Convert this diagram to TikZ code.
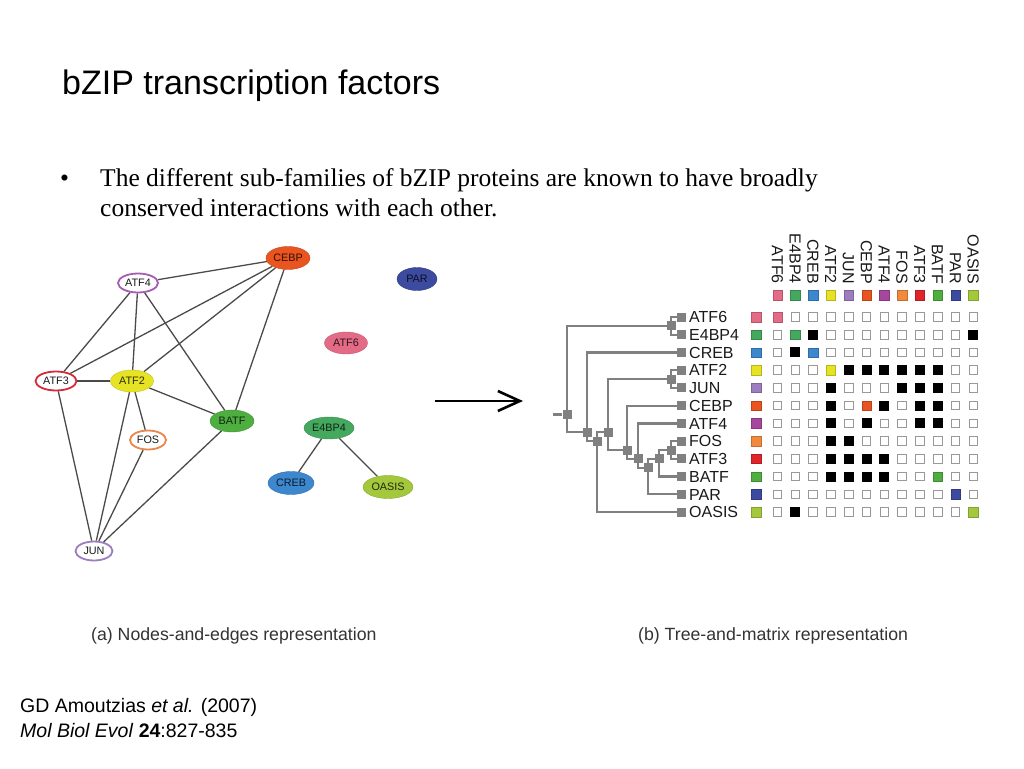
\documentclass[tikz,border=0pt]{standalone}
\usepackage{fontspec}
\setmainfont{Liberation Serif}
\newfontfamily\arial{Liberation Sans}
\usetikzlibrary{shapes.geometric,arrows.meta}
\pgfdeclarelayer{bg}
\pgfsetlayers{bg,main}
\definecolor{col0}{HTML}{E36B86}
\definecolor{col1}{HTML}{45A85F}
\definecolor{col2}{HTML}{3D87CF}
\definecolor{col3}{HTML}{E6E324}
\definecolor{col4}{HTML}{9C7DC0}
\definecolor{col5}{HTML}{E9541F}
\definecolor{col6}{HTML}{A6479E}
\definecolor{col7}{HTML}{F28A3D}
\definecolor{col8}{HTML}{E1232A}
\definecolor{col9}{HTML}{4EAE40}
\definecolor{col10}{HTML}{3C4A9F}
\definecolor{col11}{HTML}{A4C83C}
\definecolor{ringfour}{HTML}{A65BB5}
\definecolor{ringjun}{HTML}{9C7DC0}
\definecolor{ringthree}{HTML}{D42A3A}
\definecolor{ringfos}{HTML}{E8874A}
\definecolor{treegray}{HTML}{808080}
\definecolor{netedge}{HTML}{4A4A4A}
\begin{document}
\begin{tikzpicture}[x=1pt,y=-1pt,
  net/.style={ellipse, inner sep=0pt, font=\arial\fontsize{10.8}{12}\selectfont},
  netfill/.style={net, fill=#1, draw=#1!85!black, line width=0.4pt, text=#1!20!black},
  netring/.style={net, fill=white, draw=#1, line width=1.8pt, text=black!90},
  netedgestyle/.style={draw=netedge, line width=1.3pt},
  tsq/.style={rectangle, fill=treegray, inner sep=0pt, minimum size=9pt},
  tline/.style={draw=treegray, line width=2.3pt},
  emp/.style={rectangle, draw=black!40, fill=white, line width=0.9pt, inner sep=0pt, minimum size=8.5pt},
  blk/.style={rectangle, fill=black, inner sep=0pt, minimum size=10pt},
  dia/.style={rectangle, fill=#1, draw=#1!80!black, line width=0.4pt, inner sep=0pt, minimum size=9.5pt},
  rowlab/.style={anchor=base west, inner sep=0pt, text=black!90, font=\arial\fontsize{16}{18}\selectfont},
  collab/.style={anchor=base east, rotate=-90, inner sep=0pt, text=black!90, font=\arial\fontsize{16}{18}\selectfont},
  caption/.style={anchor=base west, inner sep=0pt, text=black!80, font=\arial\fontsize{17.7}{20}\selectfont}
]
\useasboundingbox (0,0) rectangle (1024,768);

% title and bullet
\node[anchor=base west, inner sep=0pt, font=\arial\fontsize{34}{40}\selectfont] (title) at (62,94) {bZIP transcription factors};
\node[anchor=base west, inner sep=0pt, font=\fontsize{25.5}{30}\selectfont] (bullet) at (60,186) {•};
\node[anchor=base west, inner sep=0pt, font=\fontsize{25.5}{30}\selectfont] (lineone) at (100,186) {The different sub-families of bZIP proteins are known to have broadly};
\node[anchor=base west, inner sep=0pt, font=\fontsize{25.5}{30}\selectfont] (linetwo) at (100,216) {conserved interactions with each other.};

% network
\node[netfill=col5, minimum width=44pt, minimum height=23pt] (CEBP) at (288,258) {CEBP};
\node[netring=ringfour, minimum width=40pt, minimum height=19pt] (ATFfour) at (138,283) {ATF4};
\node[netfill=col10, minimum width=40pt, minimum height=23pt] (PAR) at (417,279) {PAR};
\node[netfill=col0, minimum width=43pt, minimum height=22pt] (ATFsix) at (346,343) {ATF6};
\node[netring=ringthree, minimum width=41pt, minimum height=19pt] (ATFthree) at (56,381) {ATF3};
\node[netfill=col3, minimum width=43pt, minimum height=22pt] (ATFtwo) at (132,381) {ATF2};
\node[netfill=col9, minimum width=44pt, minimum height=22pt] (BATF) at (232,421) {BATF};
\node[netring=ringfos, minimum width=36pt, minimum height=19pt] (FOS) at (148,440) {FOS};
\node[netfill=col1, minimum width=50pt, minimum height=22pt] (EfourBPfour) at (329,428) {E4BP4};
\node[netfill=col2, minimum width=46pt, minimum height=23pt] (CREB) at (291,483) {CREB};
\node[netfill=col11, minimum width=50pt, minimum height=23pt] (OASIS) at (388,487) {OASIS};
\node[netring=ringjun, minimum width=37pt, minimum height=19pt] (JUN) at (94,551) {JUN};

\begin{pgfonlayer}{bg}
\foreach \a/\b in {CEBP/ATFfour, CEBP/ATFthree, CEBP/ATFtwo, CEBP/BATF,
  ATFfour/ATFthree, ATFfour/ATFtwo, ATFfour/BATF, ATFthree/ATFtwo, ATFthree/JUN,
  ATFtwo/BATF, ATFtwo/FOS, ATFtwo/JUN, FOS/JUN, BATF/JUN,
  EfourBPfour/CREB, EfourBPfour/OASIS}
  \draw[netedgestyle] (\a) -- (\b);
\end{pgfonlayer}

% arrow
\coordinate (arrowstart) at (435,401);
\coordinate (arrowend) at (523,401);
\draw[line width=2.6pt, -{Straight Barb[length=22pt, width=20pt, line width=2.6pt]}] (arrowstart) -- (arrowend);

% tree leaves, labels, legend and header
\foreach \lab [count=\i from 0] in {ATF6,E4BP4,CREB,ATF2,JUN,CEBP,ATF4,FOS,ATF3,BATF,PAR,OASIS} {
  \node[tsq] (tl\i) at (681,{317+17.73*\i}) {};
  \node[rowlab] (rl\i) at (689,{317+17.73*\i+5.75}) {\lab};
  \node[dia=col\i] (lg\i) at (756,{317+17.73*\i}) {};
  \node[collab] (cl\i) at ({777.5+17.8*\i-5.75},284) {\lab};
  \node[dia=col\i] (hd\i) at ({777.5+17.8*\i},295) {};
}

% tree internal nodes
\node[tsq] (tNone) at (671,325.9) {};
\node[tsq] (tNtwo) at (671,379.1) {};
\node[tsq] (tH) at (671,450.0) {};
\node[tsq] (tG) at (659,458.8) {};
\node[tsq] (tF) at (648,467.7) {};
\node[tsq] (tE) at (638,458.8) {};
\node[tsq] (tD) at (627,450.0) {};
\node[tsq] (tC) at (608,432.3) {};
\node[tsq] (tB) at (597,441.1) {};
\node[tsq] (tA) at (587,432.3) {};
\node[tsq] (tR) at (567,414.5) {};
\coordinate (tstub) at (553,414.5);

\begin{pgfonlayer}{bg}
\draw[tline] (tstub) -- (tR);
\foreach \p/\c in {tR/tNone, tR/tA, tA/tl2, tA/tB, tB/tC, tB/tl11, tC/tNtwo, tC/tD,
  tD/tl5, tD/tE, tE/tl6, tE/tF, tF/tG, tF/tl10, tG/tH, tG/tl9, tH/tl7, tH/tl8,
  tNtwo/tl3, tNtwo/tl4, tNone/tl0, tNone/tl1}
  \draw[tline] (\p.center) |- (\c.center);
\end{pgfonlayer}

% matrix
\foreach \r [count=\i from 0] in {
  {2,0,0,0,0,0,0,0,0,0,0,0},
  {0,2,1,0,0,0,0,0,0,0,0,1},
  {0,1,2,0,0,0,0,0,0,0,0,0},
  {0,0,0,2,1,1,1,1,1,1,0,0},
  {0,0,0,1,0,0,0,1,1,1,0,0},
  {0,0,0,1,0,2,1,0,1,1,0,0},
  {0,0,0,1,0,1,0,0,1,1,0,0},
  {0,0,0,1,1,0,0,0,0,0,0,0},
  {0,0,0,1,1,1,1,0,0,0,0,0},
  {0,0,0,1,1,1,1,0,0,2,0,0},
  {0,0,0,0,0,0,0,0,0,0,2,0},
  {0,1,0,0,0,0,0,0,0,0,0,2}} {
  \foreach \v [count=\j from 0] in \r {
    \ifnum\v=0
      \node[emp] (m\i-\j) at ({777.5+17.8*\j},{317+17.73*\i}) {};
    \else\ifnum\v=1
      \node[blk] (m\i-\j) at ({777.5+17.8*\j},{317+17.73*\i}) {};
    \else
      \node[dia=col\j] (m\i-\j) at ({777.5+17.8*\j},{317+17.73*\i}) {};
    \fi\fi
  }
}

% captions
\node[caption] (capa) at (91,640) {(a) Nodes-and-edges representation};
\node[caption] (capb) at (638,640) {(b) Tree-and-matrix representation};

% citation
\node[anchor=base west, inner sep=0pt, font=\arial\fontsize{19.5}{23}\selectfont] (citeone) at (20,712) {GD Amoutzias \textit{et al.} (2007)};
\node[anchor=base west, inner sep=0pt, font=\arial\fontsize{19.5}{23}\selectfont] (citetwo) at (20,737) {\textit{Mol Biol Evol} \textbf{24}:827-835};
\end{tikzpicture}
\end{document}
